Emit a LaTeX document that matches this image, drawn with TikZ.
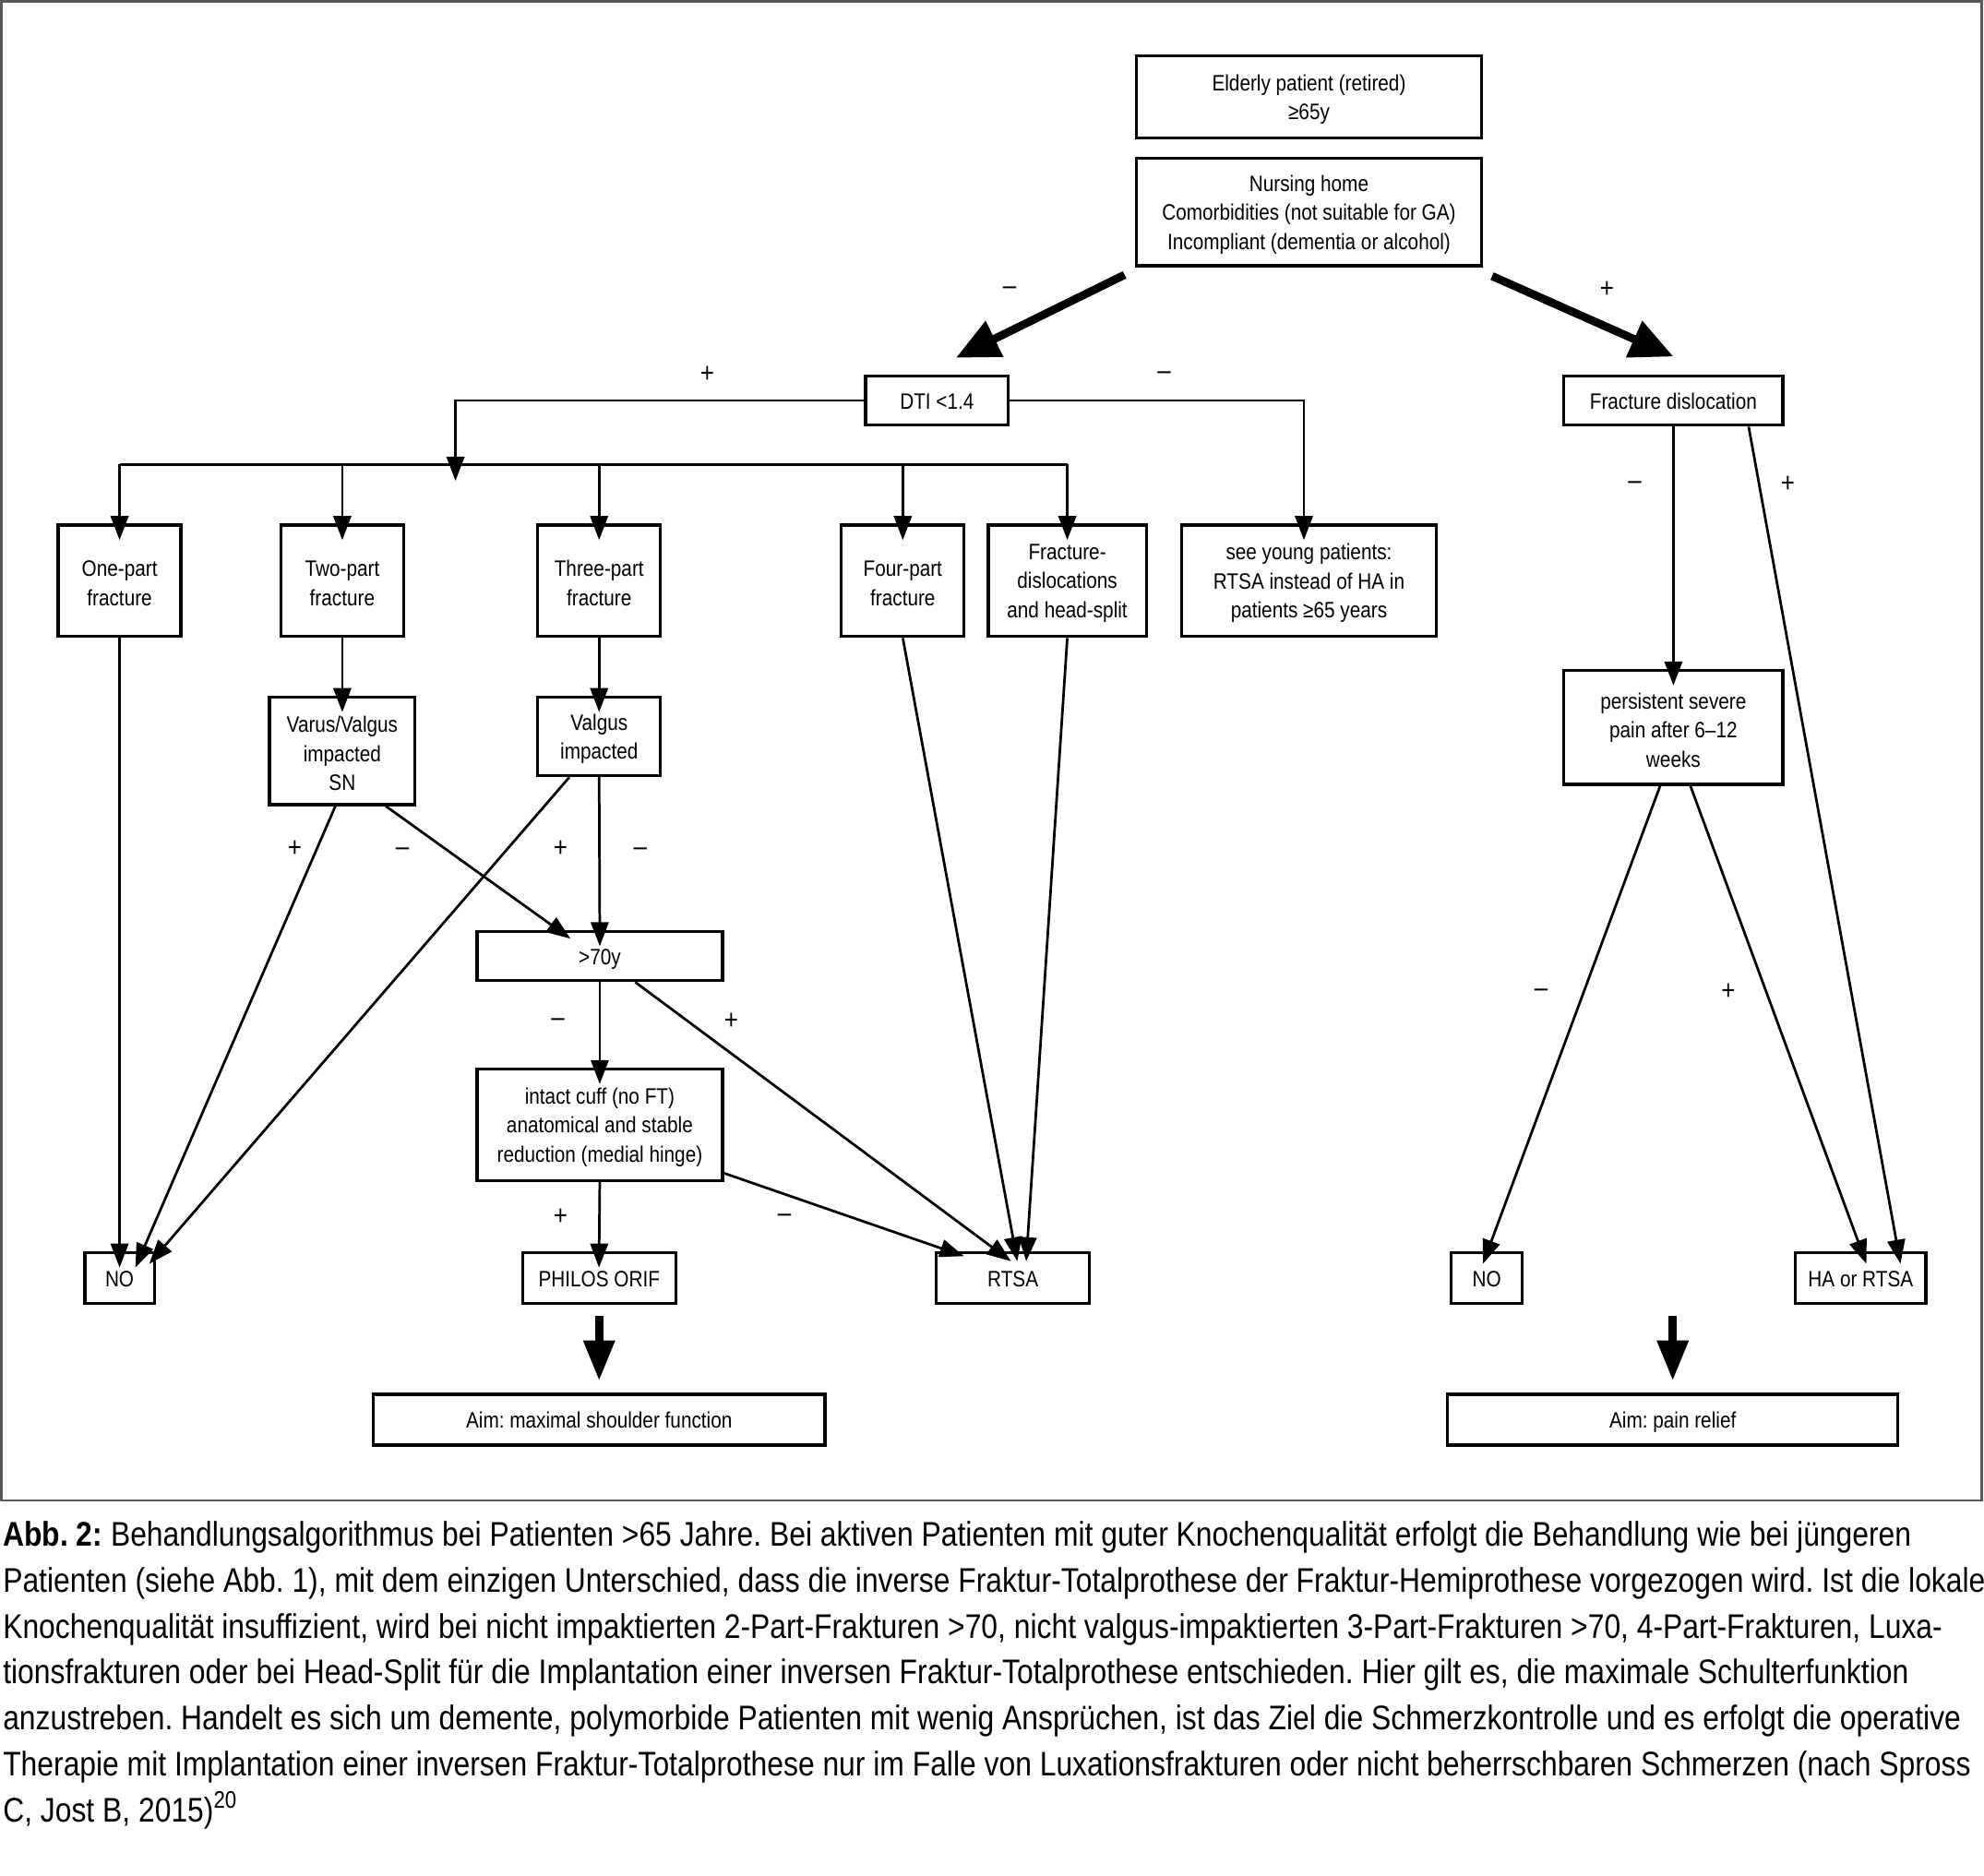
\documentclass[tikz,border=0pt]{standalone}
\usepackage{fontspec}
\setmainfont[FakeStretch=0.86]{Liberation Sans}
\usetikzlibrary{arrows.meta,calc}
\newcommand\dgfont{\fontsize{8.8}{11.5}\selectfont}
\newcommand\sgfont{\fontsize{11}{12}\selectfont}
\newcommand\capfont{\fontsize{13.5}{18}\selectfont}
\frenchspacing
\begin{document}
\begin{tikzpicture}[x=0.5pt,y=-0.5pt,
  box/.style={draw, line width=1.2pt, inner sep=0pt},
  lbl/.style={align=center, font=\dgfont, inner sep=0pt, yshift=-1pt},
  txt/.style={label={[lbl]center:{#1}}},
  txtone/.style={label={[lbl, text height=6.6pt, text depth=1.9pt]center:{#1}}},
  wh/.style 2 args={minimum width=#1*0.5pt, minimum height=#2*0.5pt},
  conn/.style={line width=1pt, -{Triangle[length=9.5pt,width=7pt]}},
  vconn/.style={conn, shorten >=-6.5pt},
  plain/.style={line width=1pt},
  sign/.style={font=\sgfont, inner sep=0pt},
  bigarrow/.style={line width=3.2pt, -{Triangle[length=17pt,width=15pt]}},
  downarrow/.style={line width=3.4pt, -{Triangle[length=16pt,width=11.7pt]}},
  capline/.style={anchor=base west, inner sep=0pt, font=\capfont}]
\useasboundingbox (0,0) rectangle (1568,1482);
\draw[gray!70!black, line width=0.9pt] (1,1) rectangle (1566,1186);

% boxes
\node[box, wh={273}{65}, txt={Elderly patient (retired)\\≥65y}] (eld) at (1034.5,76.5) {};
\node[box, wh={273}{85}, txt={Nursing home\\Comorbidities (not suitable for GA)\\Incompliant (dementia or alcohol)}] (nur) at (1034.5,167.5) {};
\node[box, wh={113}{39}, txtone={DTI <1.4}] (dti) at (740.5,316.5) {};
\node[box, wh={173}{39}, txtone={Fracture dislocation}] (fd) at (1322.5,316.5) {};
\node[box, wh={97}{88}, txt={One-part\\fracture}] (one) at (94.5,459) {};
\node[box, wh={97}{88}, txt={Two-part\\fracture}] (two) at (270.5,459) {};
\node[box, wh={97}{88}, txt={Three-part\\fracture}] (three) at (473.5,459) {};
\node[box, wh={97}{88}, txt={Four-part\\fracture}] (four) at (713.5,459) {};
\node[box, wh={125}{88}, txt={Fracture-\\dislocations\\and head-split}] (fdh) at (843.5,459) {};
\node[box, wh={201}{88}, txt={see young patients:\\RTSA instead of HA in\\patients ≥65 years}] (young) at (1034.5,459) {};
\node[box, wh={115}{85}, txt={Varus/Valgus\\impacted\\SN}] (varus) at (270.5,593.5) {};
\node[box, wh={97}{62}, txt={Valgus\\impacted}] (valgus) at (473.5,582) {};
\node[box, wh={194}{39}, txtone={>70y}] (seventy) at (474,755.5) {};
\node[box, wh={194}{88}, txt={intact cuff (no FT)\\anatomical and stable\\reduction (medial hinge)}] (cuff) at (474,889) {};
\node[box, wh={55}{40}, txtone={NO}] (no1) at (94.5,1010) {};
\node[box, wh={121}{40}, txtone={PHILOS ORIF}] (philos) at (473.5,1010) {};
\node[box, wh={121}{40}, txtone={RTSA}] (rtsa) at (800.5,1010) {};
\node[box, wh={357}{40}, txtone={Aim: maximal shoulder function}] (aim1) at (473.5,1122) {};
\node[box, wh={173}{90}, txt={persistent severe\\pain after 6–12\\weeks}] (pers) at (1322.5,575) {};
\node[box, wh={56}{40}, txtone={NO}] (no2) at (1175,1010) {};
\node[box, wh={103}{40}, txtone={HA or RTSA}] (hartsa) at (1470.5,1010) {};
\node[box, wh={356}{40}, txtone={Aim: pain relief}] (aim2) at (1322,1122) {};

% thick arrows from nursing
\draw[bigarrow] ($(nur.south west)+(-8,6)$) -- ($(dti.north)+(15,-13)$);
\draw[bigarrow] ($(nur.south east)+(7,7)$) -- ($(fd.north)+(0,-14)$);
\node[sign] (s1) at (798,230) {–};
\node[sign] (s2) at (1270,229) {+};

% DTI branches
\coordinate (j) at (360,380);
\coordinate (barL) at (94.5,367);
\coordinate (barR) at (843.5,367);
\draw[conn] (dti.west) -| (j);
\draw[plain] (barL) -- (barR);
\draw[vconn] (barL) -- (one.north);
\draw[vconn] (two.north |- barL) -- (two.north);
\draw[vconn] (three.north |- barL) -- (three.north);
\draw[vconn] (four.north |- barL) -- (four.north);
\draw[vconn] (barR) -- (fdh.north);
\draw[vconn] (dti.east) -| ($(young.north)+(-4,0)$);
\node[sign] (s3) at (559,296) {+};
\node[sign] (s4) at (920,297) {–};

% vertical connectors
\draw[vconn] (one.south) -- (no1.north);
\draw[vconn] (two.south) -- (varus.north);
\draw[vconn] (three.south) -- (valgus.north);
\draw[vconn] (valgus.south) -- (seventy.north);
\draw[vconn] (seventy.south) -- (cuff.north);
\draw[vconn] (cuff.south) -- (philos.north);
\draw[vconn] (fd.south) -- (pers.north);

% diagonal connectors
\draw[conn] ($(varus.south)+(-5.5,0)$) -- ($(no1.north)+(12.5,13)$);
\draw[conn] ($(varus.south)+(34.5,0)$) -- ($(seventy.north west)+(75,7)$);
\draw[conn] ($(valgus.south)+(-23.5,0)$) -- ($(no1.north)+(23.5,10)$);
\draw[conn] ($(seventy.south)+(28,0)$) -- ($(rtsa.north)+(-1.5,8)$);
\draw[conn] ($(cuff.south east)+(0,-7)$) -- ($(rtsa.north west)+(23,4)$);
\draw[conn] (four.south) -- ($(rtsa.north)+(3.5,8)$);
\draw[conn] (fdh.south) -- ($(rtsa.north)+(10.5,8)$);
\draw[conn] ($(fd.south)+(59.5,0)$) -- ($(hartsa.north)+(31.5,10)$);
\draw[conn] ($(pers.south)+(-10.5,0)$) -- ($(no2.north)+(-3,10)$);
\draw[conn] ($(pers.south)+(13.5,0)$) -- ($(hartsa.north)+(4.5,10)$);

% signs
\node[sign] (s5) at (1292,384) {–};
\node[sign] (s6) at (1413,383) {+};
\node[sign] (s7) at (233,671) {+};
\node[sign] (s8) at (318,673) {–};
\node[sign] (s9) at (443,671) {+};
\node[sign] (s10) at (506,673) {–};
\node[sign] (s11) at (441,808) {–};
\node[sign] (s12) at (578,807) {+};
\node[sign] (s13) at (443,962) {+};
\node[sign] (s14) at (620,963) {–};
\node[sign] (s15) at (1218,785) {–};
\node[sign] (s16) at (1366,784) {+};

% big down arrows
\draw[downarrow, shorten <=4.3pt, shorten >=4.7pt] (philos.south) -- (aim1.north);
\draw[downarrow, shorten <=4.3pt, shorten >=4.7pt] (no2.south -| aim2.north) -- (aim2.north);

% caption
\node[capline] (c1) at (2,1222) {\textbf{Abb. 2:} Behandlungsalgorithmus bei Patienten >65 Jahre. Bei aktiven Patienten mit guter Knochenqualität erfolgt die Behandlung wie bei jüngeren};
\node[capline] (c2) at (2,1258.3) {Patienten (siehe Abb. 1), mit dem einzigen Unterschied, dass die inverse Fraktur-Totalprothese der Fraktur-Hemiprothese vorgezogen wird. Ist die lokale};
\node[capline] (c3) at (2,1294.6) {Knochenqualität insuffizient, wird bei nicht impaktierten 2-Part-Frakturen >70, nicht valgus-impaktierten 3-Part-Frakturen >70, 4-Part-Frakturen, Luxa-};
\node[capline] (c4) at (2,1330.9) {tionsfrakturen oder bei Head-Split für die Implantation einer inversen Fraktur-Totalprothese entschieden. Hier gilt es, die maximale Schulterfunktion};
\node[capline] (c5) at (2,1367.2) {anzustreben. Handelt es sich um demente, polymorbide Patienten mit wenig Ansprüchen, ist das Ziel die Schmerzkontrolle und es erfolgt die operative};
\node[capline] (c6) at (2,1403.5) {Therapie mit Implantation einer inversen Fraktur-Totalprothese nur im Falle von Luxationsfrakturen oder nicht beherrschbaren Schmerzen (nach Spross};
\node[capline] (c7) at (2,1439.8) {C, Jost B, 2015)\textsuperscript{20}};
\end{tikzpicture}
\end{document}
